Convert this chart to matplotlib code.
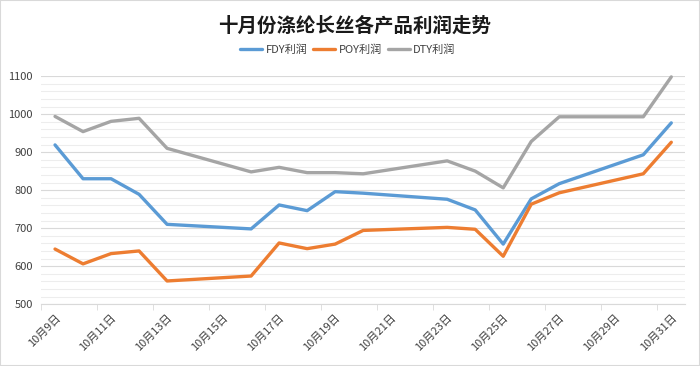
import matplotlib.pyplot as plt
from matplotlib.patches import Rectangle
from matplotlib.ticker import MultipleLocator, FixedLocator

plt.rcParams['font.family'] = ['Noto Sans CJK SC', 'DejaVu Sans']

# trading days in October (day of month)
days = [9, 10, 11, 12, 13, 16, 17, 18, 19, 20, 23, 24, 25, 26, 27, 30, 31]
fdy = [919, 830, 830, 789, 710, 698, 761, 746, 796, 792, 776, 748, 658, 777, 817, 893, 977]
poy = [645, 606, 633, 640, 561, 574, 661, 646, 658, 694, 702, 697, 626, 763, 793, 843, 926]
dty = [994, 954, 981, 989, 910, 848, 860, 846, 846, 843, 877, 850, 806, 928, 993, 993, 1098]
label_days = list(range(9, 32, 2))
tick_labels = [f'10月{d}日' for d in label_days]

fig = plt.figure(figsize=(7, 3.66), dpi=100)
ax = fig.add_axes([0.0586, 0.169, 0.9204, 0.623])

for vals, col, name in [(fdy, '#5B9BD5', 'FDY利润'), (poy, '#ED7D31', 'POY利润'),
                        (dty, '#A5A5A5', 'DTY利润')]:
    ax.plot(days, vals, color=col, lw=2.4, label=name, solid_joinstyle='round',
            solid_capstyle='round', clip_on=False)

ax.set_xlim(8.5, 31.5)
ax.set_ylim(500, 1100)
ax.set_xticks(label_days)
ax.set_xticklabels(tick_labels, rotation=45, ha='right', rotation_mode='anchor',
                   fontsize=8, color='#404040')
ax.xaxis.set_minor_locator(FixedLocator([d - 0.5 for d in range(9, 33, 2)]))
ax.tick_params(axis='x', which='major', length=0, pad=6)
ax.tick_params(axis='x', which='minor', length=4, color='#D9D9D9')

ax.yaxis.set_major_locator(MultipleLocator(100))
ax.yaxis.set_minor_locator(MultipleLocator(20))
ax.tick_params(axis='y', which='both', length=0, labelsize=8, labelcolor='#404040', pad=6)
ax.grid(axis='y', which='major', color='#D9D9D9', lw=0.8)
ax.grid(axis='y', which='minor', color='#EDEDED', lw=0.8)
ax.set_axisbelow(True)

for s in ['top', 'right', 'left']:
    ax.spines[s].set_visible(False)
ax.spines['bottom'].set_color('#D9D9D9')

fig.text(0.507, 0.93, '十月份涤纶长丝各产品利润走势', ha='center', va='center',
         fontsize=14, fontweight='bold', color='#1a1a1a')
fig.legend(loc='center', bbox_to_anchor=(0.497, 0.865), ncol=3, frameon=False,
           fontsize=8, handlelength=2.0, columnspacing=0.5, handletextpad=0.3,
           labelcolor='#404040')

fig.patches.append(Rectangle((0, 0), 1, 1, transform=fig.transFigure, fill=False,
                             edgecolor='#D9D9D9', lw=1.5))

fig.savefig('out.png', dpi=100)
